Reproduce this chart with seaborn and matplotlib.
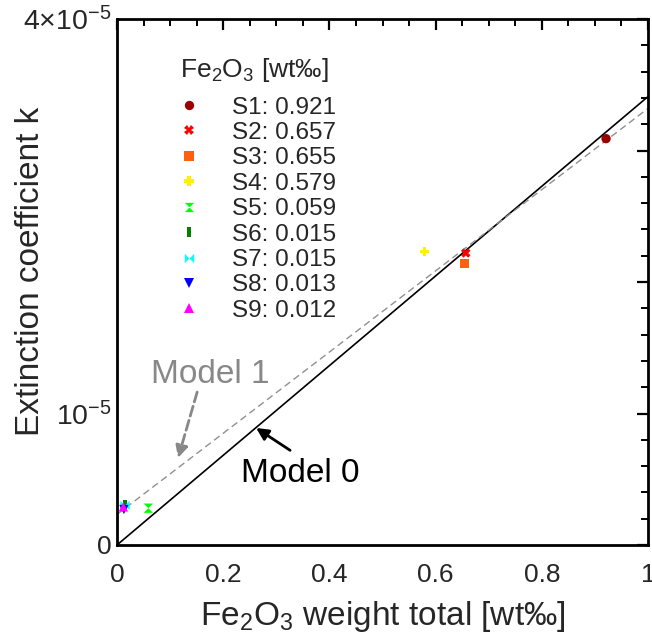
import numpy as np
import pandas as pd
import matplotlib
matplotlib.use("Agg")
import matplotlib.pyplot as plt
import seaborn as sns

# ---- data ----
samples = ["S1", "S2", "S3", "S4", "S5", "S6", "S7", "S8", "S9"]
fe2o3 = [0.921, 0.657, 0.655, 0.579, 0.059, 0.015, 0.015, 0.013, 0.012]
k_vals = [3.09e-5, 2.22e-5, 2.14e-5, 2.23e-5, 0.28e-5, 0.31e-5, 0.30e-5, 0.27e-5, 0.29e-5]
model_x = [0.0, 1.0]
model0_k = [0.0, 3.41e-5]
model1_k = [0.232e-5, 3.32e-5]
ytick_vals = [0, 1e-5, 2e-5, 3e-5, 4e-5]
ytick_labels = ["0", r"$10^{-5}$", "", "", r"$4{\times}10^{-5}$"]
xtick_vals = [0, 0.2, 0.4, 0.6, 0.8, 1.0]
xtick_labels = ["0", "0.2", "0.4", "0.6", "0.8", "1"]

colors = ["#990000", "#FF0000", "#FF6010", "#FFF000", "#00FF00",
          "#007F00", "#00FFFF", "#0000FF", "#FF00FF"]
hourglass = [(-1, 1), (1, 1), (-1, -1), (1, -1), (-1, 1)]
bar = [(-0.45, -1), (0.45, -1), (0.45, 1), (-0.45, 1), (-0.45, -1)]
bowtie = [(-1, 1), (-1, -1), (1, 1), (1, -1), (-1, 1)]
markers = ["o", "X", "s", "P", hourglass, bar, bowtie, "v", "^"]

labels = [f"{s}: {v:.3f}" for s, v in zip(samples, fe2o3)]
df = pd.DataFrame({"x": fe2o3, "k": k_vals, "label": labels})

sns.set_theme(style="white")
plt.rcParams["font.family"] = ["Liberation Sans", "DejaVu Sans"]
plt.rcParams["mathtext.fontset"] = "custom"
plt.rcParams["mathtext.rm"] = "Liberation Sans"
plt.rcParams["mathtext.it"] = "Liberation Sans:italic"
plt.rcParams["mathtext.bf"] = "Liberation Sans:bold"

fig = plt.figure(figsize=(6.52, 6.39), dpi=100)
ax = fig.add_axes([117 / 652, 1 - 545 / 639, (648 - 117) / 652, (545 - 19) / 639])

# model lines
sns.lineplot(x=model_x, y=model0_k, ax=ax, color="black", lw=1.2, zorder=2)
sns.lineplot(x=model_x, y=model1_k, ax=ax, color="#909090", lw=1.0,
             linestyle=(0, (5, 3)), zorder=2)

sns.scatterplot(data=df, x="x", y="k", hue="label", style="label",
                palette=dict(zip(labels, colors)),
                markers=dict(zip(labels, markers)),
                s=45, linewidth=0, ax=ax, zorder=3, legend=True)

ax.set_xlim(0, 1)
ax.set_ylim(0, 4e-5)
ax.set_xticks(xtick_vals)
ax.set_xticklabels(xtick_labels)
ax.set_yticks(ytick_vals)
ax.set_yticklabels(ytick_labels)
ax.set_xticks(np.arange(0, 1.0001, 0.05), minor=True)
ax.set_yticks(np.arange(0, 4.0001e-5, 0.2e-5), minor=True)
ax.tick_params(which="both", direction="in", top=True, right=True,
               color="black", labelsize=19)
ax.tick_params(which="major", length=8, width=1.6)
ax.tick_params(which="minor", length=5, width=1.4)
ax.tick_params(axis="x", pad=13)
ax.tick_params(axis="y", pad=4)
for sp in ax.spines.values():
    sp.set_color("black")
    sp.set_linewidth(2)
for lab in ax.get_yticklabels():
    if "$" in lab.get_text():
        lab.set_fontsize(20.5)

ax.set_xlabel("Fe$_2$O$_3$ weight total [wt‰]", fontsize=24)
ax.set_ylabel("Extinction coefficient k", fontsize=24)
ax.xaxis.set_label_coords(0.5, -0.102)
ax.yaxis.set_label_coords(-0.133, 0.52)

# legend
handles, leg_labels = ax.get_legend_handles_labels()
leg = ax.legend(handles, leg_labels, title="Fe$_2$O$_3$ [wt‰]",
                loc="upper left", bbox_to_anchor=(180 / 652, 1 - 56 / 639),
                bbox_transform=fig.transFigure, frameon=False,
                fontsize=17.5, title_fontsize=19, handlelength=0.7,
                handletextpad=1.45, labelspacing=0.14, borderpad=0,
                borderaxespad=0, markerscale=1.0)
leg._legend_box.align = "left"
leg._legend_box.sep = 9

# annotations
ax.text(0.345, 0.54e-5, "Model 0", fontsize=24, color="black",
        ha="center", va="center")
ax.annotate("", xy=(0.262, 0.89e-5), xytext=(0.326, 0.72e-5),
            arrowprops=dict(arrowstyle="-|>", color="black", lw=2,
                            mutation_scale=18, shrinkA=0, shrinkB=0))
ax.text(0.175, 1.30e-5, "Model 1", fontsize=24, color="#888888",
        ha="center", va="center")
ax.annotate("", xy=(0.115, 0.662e-5), xytext=(0.151, 1.163e-5),
            arrowprops=dict(arrowstyle="-|>", color="#888888", lw=2,
                            linestyle="--", mutation_scale=18,
                            shrinkA=0, shrinkB=0))

fig.savefig("out.png", dpi=100)
